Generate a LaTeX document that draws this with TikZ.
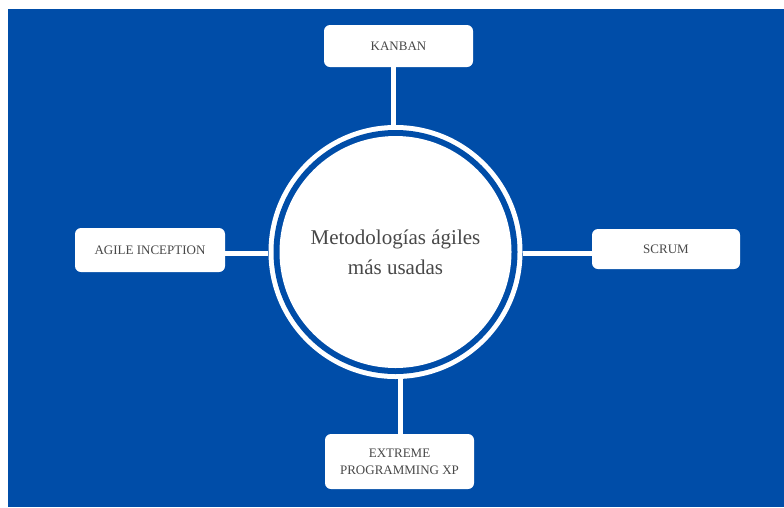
\documentclass[tikz,border=0pt]{standalone}
\usepackage{fontspec}
\setmainfont{Liberation Serif}
\definecolor{bgblue}{RGB}{0,77,168}
\definecolor{labelgray}{RGB}{72,72,72}
\begin{document}
\begin{tikzpicture}[x=1pt,y=-1pt,
  methodbox/.style={fill=white, rounded corners=6pt, inner sep=0pt,
    text=labelgray, align=center,
    font=\fontsize{13}{17}\selectfont},
  link/.style={draw=white, line width=5pt}]
  \useasboundingbox (0,0) rectangle (784,507);
  % page background
  \fill[bgblue] (8,9) rectangle (784,507);

  % centre badge: white ring, blue gap, white disk
  \node[circle, fill=white, minimum size=254pt, inner sep=0pt] (ring) at (395.5,252) {};
  \node[circle, fill=bgblue, minimum size=244pt, inner sep=0pt] (gap) at (ring.center) {};
  \node[circle, fill=white, minimum size=232pt, inner sep=0pt, text=labelgray,
        align=center, font=\fontsize{21}{30}\selectfont] (hub) at (ring.center)
        {Metodologías ágiles\\más usadas};

  % methodology boxes
  \node[methodbox, minimum width=149pt, minimum height=42pt] (kanban) at (398.5,46) {KANBAN};
  \node[methodbox, minimum width=149pt, minimum height=55pt] (xp) at (399.5,461.5) {EXTREME\\PROGRAMMING XP};
  \node[methodbox, minimum width=150pt, minimum height=44pt] (agile) at (150,250) {AGILE INCEPTION};
  \node[methodbox, minimum width=148pt, minimum height=40pt] (scrum) at (666,249) {SCRUM};

  % connectors from the ring to each box
  \draw[link] ([xshift=-5.5pt]kanban.south) -- ([xshift=-2.5pt]ring.north);
  \draw[link] ([xshift=4.5pt]ring.south) -- ([xshift=0.5pt]xp.north);
  \draw[link] (agile.east |- 0,253) -- (ring.west |- 0,253);
  \draw[link] (ring.east |- 0,253.5) -- (scrum.west |- 0,253.5);
\end{tikzpicture}
\end{document}
